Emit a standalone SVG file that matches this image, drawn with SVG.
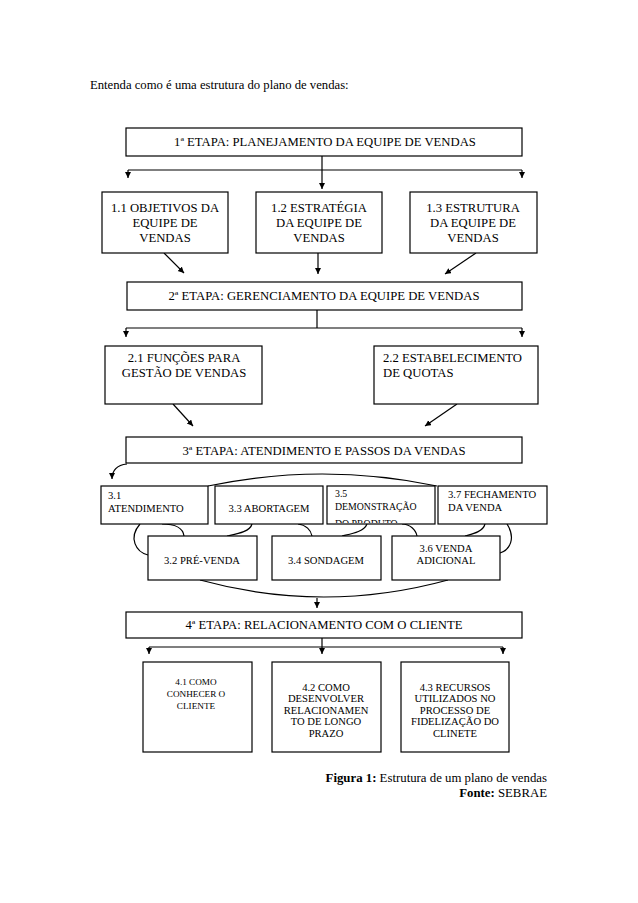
<svg xmlns="http://www.w3.org/2000/svg" width="638" height="903" viewBox="0 0 638 903">
<style>
text{font-family:"Liberation Serif","Times New Roman",serif;fill:#000}
.box{fill:#fff;stroke:#000;stroke-width:1.2}
.c{stroke:#000;stroke-width:1.2;fill:none}
.a{marker-end:url(#ah)}
.t12{font-size:12.7px}
.t10{font-size:10.6px}
.t9{font-size:9.8px}
.t91{font-size:9.2px}
.m{text-anchor:middle}
</style>
<defs>
<marker id="ah" markerUnits="userSpaceOnUse" markerWidth="7" markerHeight="7" refX="6" refY="3" orient="auto">
<path d="M0,0 L6,3 L0,6 z" fill="#000"/>
</marker>
<clipPath id="clip35"><rect x="328" y="486" width="106" height="37"/></clipPath>
</defs>
<rect width="638" height="903" fill="#fff"/>
<text x="90" y="89" class="t12">Entenda como é uma estrutura do plano de vendas:</text>

<g id="connectors">
<path class="c a" d="M322,156 L322,189"/>
<path class="c" d="M128,170 L522,170"/>
<path class="c a" d="M128,170 L128,178"/>
<path class="c a" d="M522,170 L522,178"/>
<path class="c a" d="M164,253 L184,273"/>
<path class="c a" d="M318,253 L318,274"/>
<path class="c a" d="M476,253 L445,274"/>
<path class="c" d="M317,310 L317,328 M126,328 L522,328"/>
<path class="c a" d="M126,328 L126,337"/>
<path class="c a" d="M522,328 L522,337"/>
<path class="c a" d="M173,404 L193,426"/>
<path class="c a" d="M457,404 L425,426"/>
<path class="c a" d="M127,464 C118,465 112,469 112,479"/>
<path class="c" d="M208,486 Q322,462 437,486"/>
<path class="c" d="M140,524 C128,538 136,552 148,555"/>
<path class="c" d="M162,524 C175,524 183,528 184,536"/>
<path class="c" d="M252,524 C250,532 236,534 227,536"/>
<path class="c" d="M298,524 C306,525 311,530 312,536"/>
<path class="c" d="M367,524 C364,532 350,534 342,536"/>
<path class="c" d="M402,524 C410,524 416,530 417,536"/>
<path class="c" d="M485,524 C483,532 472,534 465,536"/>
<path class="c" d="M507,524 C516,538 510,550 500,553"/>
<path class="c" d="M200,580 Q324,614 448,580"/>
<path class="c a" d="M317,598 L317,608"/>
<path class="c a" d="M322,638 L322,654"/>
<path class="c" d="M149,647 L503,647"/>
<path class="c a" d="M149,647 L149,654"/>
<path class="c a" d="M503,647 L503,654"/>
</g>

<g id="etapa1">
<rect class="box" x="126" y="128" width="396" height="28"/>
<text x="325" y="146" class="t12 m">1ª ETAPA: PLANEJAMENTO DA EQUIPE DE VENDAS</text>
</g>
<g id="n11">
<rect class="box" x="102" y="192" width="126" height="61"/>
<text class="t12 m" x="165" y="212">1.1 OBJETIVOS DA</text>
<text class="t12 m" x="165" y="227">EQUIPE DE</text>
<text class="t12 m" x="165" y="242">VENDAS</text>
</g>
<g id="n12">
<rect class="box" x="256" y="192" width="126" height="61"/>
<text class="t12 m" x="319" y="212">1.2 ESTRATÉGIA</text>
<text class="t12 m" x="319" y="227">DA EQUIPE DE</text>
<text class="t12 m" x="319" y="242">VENDAS</text>
</g>
<g id="n13">
<rect class="box" x="410" y="192" width="127" height="61"/>
<text class="t12 m" x="473" y="212">1.3 ESTRUTURA</text>
<text class="t12 m" x="473" y="227">DA EQUIPE DE</text>
<text class="t12 m" x="473" y="242">VENDAS</text>
</g>

<g id="etapa2">
<rect class="box" x="127" y="282" width="395" height="28"/>
<text x="324" y="300" class="t12 m">2ª ETAPA: GERENCIAMENTO DA EQUIPE DE VENDAS</text>
</g>
<g id="n21">
<rect class="box" x="105" y="346" width="157" height="58"/>
<text class="t12 m" x="184" y="362">2.1 FUNÇÕES PARA</text>
<text class="t12 m" x="184" y="377">GESTÃO DE VENDAS</text>
</g>
<g id="n22">
<rect class="box" x="374" y="346" width="164" height="58"/>
<text class="t12" x="383" y="362">2.2 ESTABELECIMENTO</text>
<text class="t12" x="383" y="377">DE QUOTAS</text>
</g>

<g id="etapa3">
<rect class="box" x="126" y="437" width="396" height="26"/>
<text x="324" y="455" class="t12 m">3ª ETAPA: ATENDIMENTO E PASSOS DA VENDAS</text>
</g>
<g id="n31">
<rect class="box" x="101" y="486" width="107" height="38"/>
<text class="t10" x="108" y="499">3.1</text>
<text class="t10" x="108" y="512">ATENDIMENTO</text>
</g>
<g id="n33">
<rect class="box" x="215" y="486" width="108" height="38"/>
<text class="t10 m" x="269" y="512">3.3 ABORTAGEM</text>
</g>
<g id="n35">
<rect class="box" x="327" y="486" width="108" height="38"/>
<g clip-path="url(#clip35)">
<text class="t9" x="335" y="497">3.5</text>
<text class="t9" x="335" y="510">DEMONSTRAÇÃO</text>
<text class="t9" x="335" y="527">DO PRODUTO</text>
</g>
</g>
<g id="n37">
<rect class="box" x="438" y="486" width="109" height="38"/>
<text class="t10" x="448" y="498">3.7 FECHAMENTO</text>
<text class="t10" x="448" y="511">DA VENDA</text>
</g>
<g id="n32">
<rect class="box" x="148" y="536" width="109" height="44"/>
<text class="t10 m" x="202" y="564">3.2 PRÉ-VENDA</text>
</g>
<g id="n34">
<rect class="box" x="272" y="536" width="109" height="44"/>
<text class="t10 m" x="326" y="564">3.4 SONDAGEM</text>
</g>
<g id="n36">
<rect class="box" x="392" y="536" width="108" height="44"/>
<text class="t10 m" x="446" y="552">3.6 VENDA</text>
<text class="t10 m" x="446" y="564">ADICIONAL</text>
</g>

<g id="etapa4">
<rect class="box" x="126" y="612" width="396" height="26"/>
<text x="324" y="629" class="t12 m">4ª ETAPA: RELACIONAMENTO COM O CLIENTE</text>
</g>
<g id="n41">
<rect class="box" x="143" y="662" width="109" height="90"/>
<text class="t91 m" x="196" y="685">4.1 COMO</text>
<text class="t91 m" x="196" y="697">CONHECER O</text>
<text class="t91 m" x="196" y="709">CLIENTE</text>
</g>
<g id="n42">
<rect class="box" x="272" y="662" width="109" height="90"/>
<text class="t10 m" x="326" y="691">4.2 COMO</text>
<text class="t10 m" x="326" y="702">DESENVOLVER</text>
<text class="t10 m" x="326" y="714">RELACIONAMEN</text>
<text class="t10 m" x="326" y="725">TO DE LONGO</text>
<text class="t10 m" x="326" y="737">PRAZO</text>
</g>
<g id="n43">
<rect class="box" x="401" y="662" width="108" height="90"/>
<text class="t10 m" x="455" y="691">4.3 RECURSOS</text>
<text class="t10 m" x="455" y="702">UTILIZADOS NO</text>
<text class="t10 m" x="455" y="714">PROCESSO DE</text>
<text class="t10 m" x="455" y="725">FIDELIZAÇÃO DO</text>
<text class="t10 m" x="455" y="737">CLINETE</text>
</g>

<text class="t12" x="547" y="782" text-anchor="end" style="font-size:12.8px"><tspan font-weight="bold">Figura 1:</tspan> Estrutura de um plano de vendas</text>
<text class="t12" x="547" y="797" text-anchor="end" style="font-size:12.8px"><tspan font-weight="bold">Fonte:</tspan> SEBRAE</text>
</svg>
